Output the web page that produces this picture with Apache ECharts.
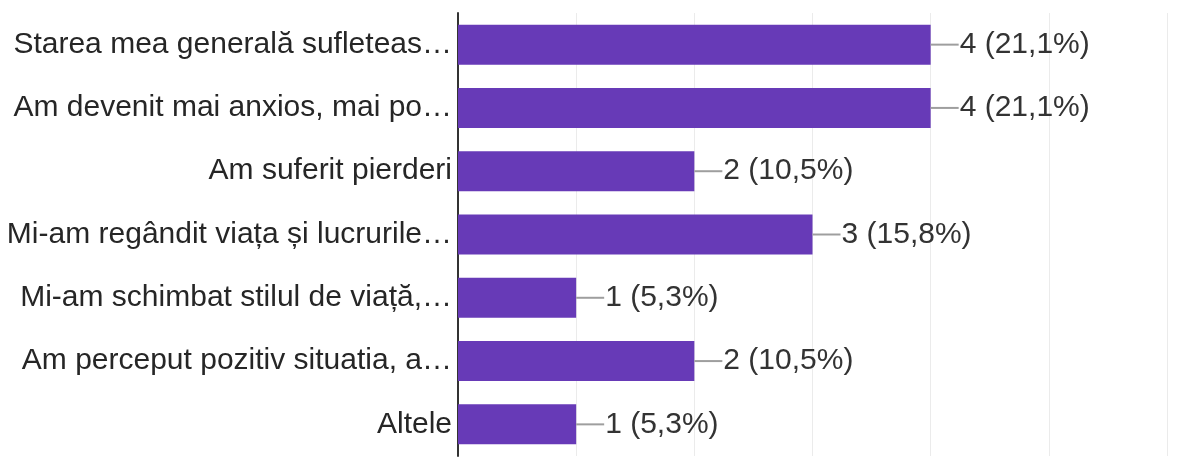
<!DOCTYPE html>
<html>
<head>
<meta charset="utf-8">
<script src="https://cdn.jsdelivr.net/npm/echarts@6/dist/echarts.min.js"></script>
<style>
  html, body { margin: 0; padding: 0; background: #fff; }
  #chart { width: 1195px; height: 457px; }
</style>
</head>
<body>
<div id="chart"></div>
<script>
// Answer options (shortened as shown on the axis)
const categories = [
  'Starea mea generală sufleteas…',
  'Am devenit mai anxios, mai po…',
  'Am suferit pierderi',
  'Mi-am regândit viața și lucrurile…',
  'Mi-am schimbat stilul de viață,…',
  'Am perceput pozitiv situatia, a…',
  'Altele'
];
// Number of respondents choosing each option
const counts = [4, 4, 2, 3, 1, 2, 1];
// Total respondents, used for the percentage in each label
const respondents = 19;
// Value-axis ticks
const axisMin = 0;
const axisMax = 6;
const axisStep = 1;

function pct(v) {
  return (v / respondents * 100).toFixed(1).replace('.', ',') + '%';
}

const chart = echarts.init(document.getElementById('chart'), null, { renderer: 'canvas' });
chart.setOption({
  animation: false,
  grid: { left: 458, right: 28, top: 13, bottom: 1, containLabel: false },
  xAxis: {
    type: 'value',
    min: axisMin,
    max: axisMax,
    interval: axisStep,
    axisLabel: { show: false },
    axisLine: { show: false },
    axisTick: { show: false },
    splitLine: { show: true, lineStyle: { color: '#ebebeb', width: 1 } }
  },
  yAxis: {
    type: 'category',
    data: categories,
    inverse: true,
    axisTick: { show: false },
    axisLine: { show: true, lineStyle: { color: '#333333', width: 2 } },
    axisLabel: {
      margin: 6,
      color: '#262626',
      fontFamily: '"Liberation Sans", Arial, sans-serif',
      fontSize: 30
    }
  },
  series: [{
    type: 'bar',
    data: counts,
    barWidth: 40,
    itemStyle: { color: '#673ab7' },
    label: {
      show: true,
      position: 'right',
      distance: 0,
      formatter: p => '{l| }{t|' + p.value + ' (' + pct(p.value) + ')}',
      rich: {
        l: { width: 28, height: 2, backgroundColor: '#9e9e9e', fontSize: 2, lineHeight: 2 },
        t: {
          color: '#333333',
          fontFamily: '"Liberation Sans", Arial, sans-serif',
          fontSize: 30,
          padding: [0, 0, 0, 1]
        }
      }
    }
  }]
});
</script>
</body>
</html>
